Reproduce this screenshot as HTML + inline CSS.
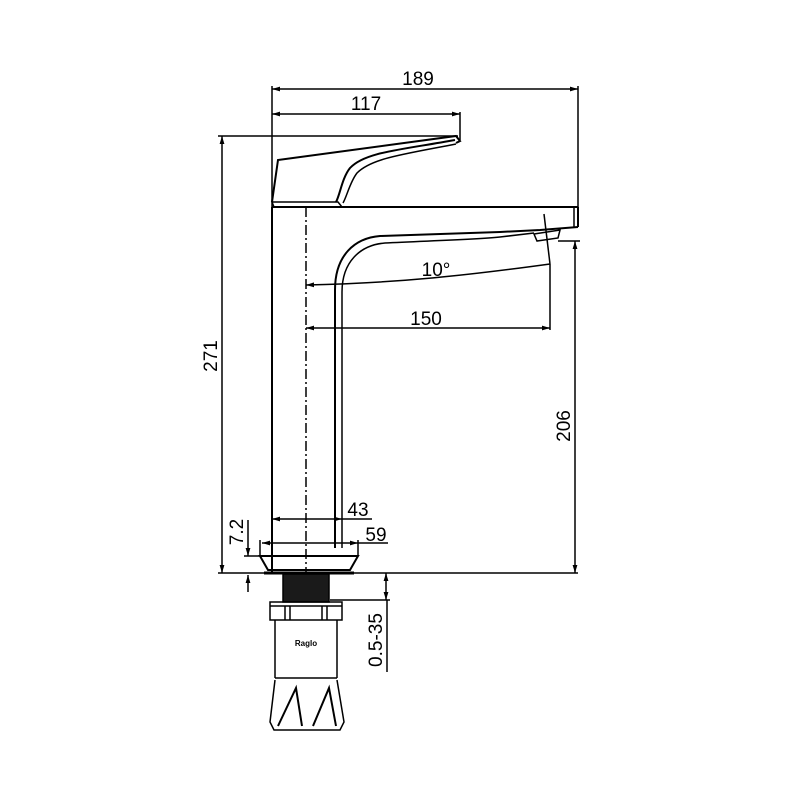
<!DOCTYPE html>
<html><head><style>body{margin:0;background:#fff}svg{display:block}</style></head><body>
<svg width="800" height="800" viewBox="0 0 800 800" xmlns="http://www.w3.org/2000/svg" font-family="Liberation Sans, Arial, sans-serif">
<defs>
<marker id="a" viewBox="0 0 10 10" refX="10" refY="5" markerWidth="8" markerHeight="8" orient="auto-start-reverse" markerUnits="userSpaceOnUse"><path d="M0,2 L10,5 L0,8z" fill="#000"/></marker>
</defs>
<g stroke="#000" fill="none" stroke-width="1.5">
<line x1="272" y1="89" x2="578" y2="89" marker-start="url(#a)" marker-end="url(#a)"/>
<line x1="578" y1="86" x2="578" y2="207"/>
<line x1="272" y1="86" x2="272" y2="207"/>
<line x1="272" y1="114" x2="460" y2="114" marker-start="url(#a)" marker-end="url(#a)"/>
<line x1="460" y1="112" x2="460" y2="140"/>
<line x1="218" y1="136" x2="458" y2="136"/>
<line x1="222" y1="136" x2="222" y2="573" marker-start="url(#a)" marker-end="url(#a)"/>
<path d="M272,202 L278,160 L456,136 L460,141 L456,143" stroke-width="2"/>
<path d="M455,140 C400,150 365,152 350,168 C342,178 340,195 336,202" stroke-width="2"/>
<path d="M456,144 C405,154 372,158 357,173 C350,182 347,196 343,203" stroke-width="1.5"/>
<path d="M272,202 L338,202 L342,207 L274,207z"/>
<line x1="272" y1="207" x2="578" y2="207" stroke-width="2"/>
<line x1="578" y1="207" x2="578" y2="227" stroke-width="2"/>
<line x1="574" y1="208" x2="574" y2="227"/>
<path d="M578,227 L540,230 L500,232 L380,236 C355,238 335,255 335,290 L335,548" stroke-width="2"/>
<path d="M534,233 L500,237 C470,240 420,241 385,243 C360,245 342,262 342,292 L342,548" stroke-width="1.5"/>
<path d="M534,234 L560,230 L558,238 L537,241z"/>
<line x1="272" y1="207" x2="272" y2="573" stroke-width="2"/>
<line x1="306" y1="207" x2="306" y2="600" stroke-dasharray="10,3,2,3"/>
<line x1="544" y1="214" x2="550" y2="264"/>
<path d="M550,264 C470,275 400,283 306,285" marker-end="url(#a)"/>
<line x1="550" y1="264" x2="550" y2="330"/>
<line x1="306" y1="328" x2="550" y2="328" marker-start="url(#a)" marker-end="url(#a)"/>
<line x1="558" y1="241" x2="580" y2="241"/>
<line x1="575" y1="241" x2="575" y2="573" marker-start="url(#a)" marker-end="url(#a)"/>
<line x1="272" y1="519" x2="342" y2="519" marker-start="url(#a)" marker-end="url(#a)"/>
<line x1="342" y1="519" x2="372" y2="519"/>
<line x1="262" y1="543" x2="358" y2="543" marker-start="url(#a)" marker-end="url(#a)"/>
<line x1="358" y1="543" x2="388" y2="543"/>
<path d="M358,540 L358,556 M260,540 L260,556" />
<path d="M260,556 L358,556 L350,570 L268,570 Z" stroke-width="2"/>
<line x1="264" y1="573" x2="354" y2="573" stroke-width="3"/>
<line x1="218" y1="573" x2="578" y2="573"/>
<line x1="248" y1="520" x2="248" y2="556" marker-end="url(#a)"/>
<line x1="248" y1="592" x2="248" y2="575" marker-end="url(#a)"/>
<line x1="244" y1="556" x2="262" y2="556"/>
<line x1="386" y1="573" x2="386" y2="600" marker-start="url(#a)" marker-end="url(#a)"/>
<line x1="330" y1="600" x2="390" y2="600"/>
<line x1="387" y1="600" x2="387" y2="672"/>
<rect x="283" y="574" width="46" height="28" fill="#1a1a1a"/>
<rect x="270" y="602" width="72" height="18"/>
<line x1="270" y1="606" x2="342" y2="606"/>
<line x1="285" y1="606" x2="285" y2="620"/><line x1="290" y1="606" x2="290" y2="620"/>
<line x1="322" y1="606" x2="322" y2="620"/><line x1="327" y1="606" x2="327" y2="620"/>
<path d="M275,620 L275,678 M337,620 L337,678 M275,678 L337,678"/>
<path d="M275,680 L270,722 L274,730 L340,730 L344,722 L337,680"/>
<path d="M278,726 L296,688 L302,726 M313,726 L329,688 L336,726" stroke-width="2"/>
</g>
<g font-size="19" fill="#000">
<text x="418" y="85" text-anchor="middle">189</text>
<text x="366" y="110" text-anchor="middle">117</text>
<text x="436" y="276" text-anchor="middle">10°</text>
<text x="426" y="325" text-anchor="middle">150</text>
<text x="358" y="516" text-anchor="middle">43</text>
<text x="376" y="541" text-anchor="middle">59</text>
<text transform="translate(217,356) rotate(-90)" text-anchor="middle">271</text>
<text transform="translate(570,426) rotate(-90)" text-anchor="middle">206</text>
<text transform="translate(243,532) rotate(-90)" text-anchor="middle">7.2</text>
<text transform="translate(382,640) rotate(-90)" text-anchor="middle">0.5-35</text>
<text x="306" y="646" font-size="8" font-weight="bold" text-anchor="middle">Raglo</text>
</g>
</svg>
</body></html>
